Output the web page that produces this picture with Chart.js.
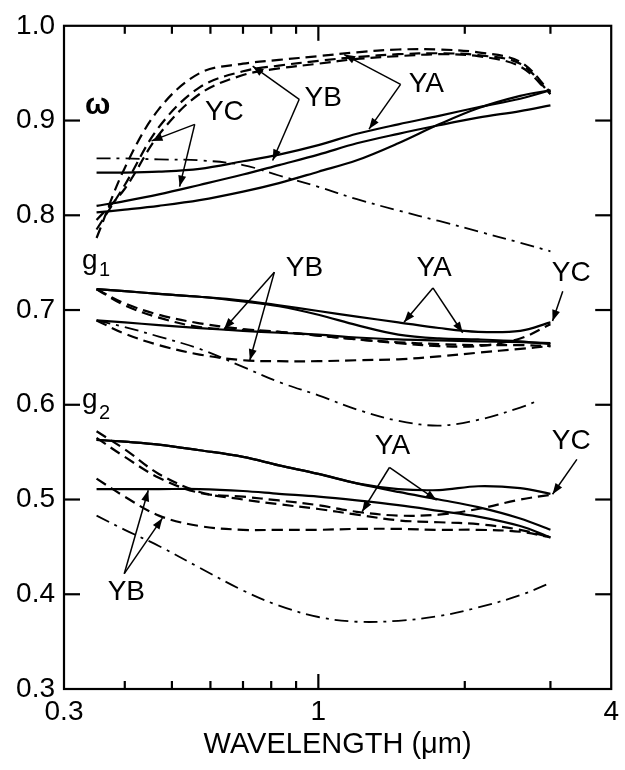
<!DOCTYPE html>
<html>
<head>
<meta charset="utf-8">
<script src="https://cdn.jsdelivr.net/npm/chart.js@4"></script>
<style>
  html, body { margin: 0; padding: 0; background: #fff; }
  canvas { display: block; }
</style>
</head>
<body>
<canvas id="chart" width="625" height="770"></canvas>
<script>
// wavelength grid (um) used by the curves
const wavelength = [0.35, 0.4, 0.47, 0.57, 0.7, 0.83, 1.0, 1.2, 1.46, 1.77, 2.13, 2.6, 3.0];
const wavelengthG1DashDot = [0.35, 0.4, 0.47, 0.57, 0.7, 0.83, 1.0, 1.2, 1.46, 1.77, 2.13, 2.6, 2.85];

// single scattering albedo (omega)
const omegaSolidA = [0.845, 0.845, 0.846, 0.849, 0.857, 0.864, 0.874, 0.886, 0.896, 0.905, 0.914, 0.923, 0.932];
const omegaSolidB = [0.810, 0.815, 0.822, 0.832, 0.843, 0.853, 0.864, 0.876, 0.886, 0.895, 0.903, 0.910, 0.916];
const omegaSolidC = [0.803, 0.806, 0.810, 0.816, 0.825, 0.834, 0.846, 0.858, 0.876, 0.896, 0.913, 0.926, 0.932];
const omegaDashA = [0.776, 0.850, 0.912, 0.950, 0.960, 0.964, 0.968, 0.972, 0.975, 0.975, 0.972, 0.962, 0.930];
const omegaDashB = [0.785, 0.832, 0.893, 0.935, 0.952, 0.958, 0.963, 0.967, 0.970, 0.971, 0.969, 0.960, 0.928];
const omegaDashC = [0.795, 0.828, 0.885, 0.928, 0.948, 0.955, 0.960, 0.965, 0.968, 0.970, 0.968, 0.957, 0.928];
const omegaDashDot = [0.860, 0.860, 0.859, 0.858, 0.853, 0.842, 0.830, 0.817, 0.805, 0.794, 0.783, 0.771, 0.762];

// asymmetry g1
const g1SolidA = [0.722, 0.720, 0.717, 0.714, 0.710, 0.705, 0.699, 0.693, 0.687, 0.681, 0.677, 0.678, 0.687];
const g1SolidB = [0.722, 0.720, 0.717, 0.714, 0.709, 0.704, 0.695, 0.684, 0.674, 0.670, 0.669, 0.667, 0.664];
const g1SolidC = [0.689, 0.687, 0.684, 0.681, 0.678, 0.676, 0.674, 0.671, 0.669, 0.668, 0.667, 0.666, 0.665];
const g1DashA = [0.722, 0.705, 0.692, 0.682, 0.679, 0.677, 0.673, 0.669, 0.666, 0.664, 0.663, 0.663, 0.662];
const g1DashB = [0.689, 0.675, 0.663, 0.653, 0.647, 0.646, 0.646, 0.647, 0.648, 0.651, 0.655, 0.659, 0.662];
const g1DashC = [0.722, 0.707, 0.695, 0.686, 0.680, 0.677, 0.673, 0.669, 0.665, 0.662, 0.662, 0.670, 0.685];
const g1DashDot = [0.689, 0.682, 0.672, 0.659, 0.640, 0.624, 0.610, 0.595, 0.583, 0.578, 0.584, 0.597, 0.605];

// asymmetry g2
const g2SolidA = [0.563, 0.561, 0.558, 0.552, 0.545, 0.536, 0.527, 0.517, 0.508, 0.500, 0.492, 0.480, 0.468];
const g2SolidB = [0.563, 0.561, 0.558, 0.552, 0.545, 0.536, 0.527, 0.517, 0.511, 0.510, 0.514, 0.512, 0.506];
const g2SolidC = [0.511, 0.511, 0.511, 0.511, 0.509, 0.506, 0.503, 0.499, 0.494, 0.488, 0.482, 0.472, 0.460];
const g2DashA = [0.572, 0.553, 0.527, 0.508, 0.500, 0.495, 0.490, 0.484, 0.478, 0.476, 0.474, 0.468, 0.460];
const g2DashB = [0.565, 0.545, 0.523, 0.507, 0.503, 0.499, 0.494, 0.487, 0.483, 0.484, 0.490, 0.500, 0.505];
const g2DashC = [0.522, 0.503, 0.483, 0.472, 0.468, 0.468, 0.468, 0.469, 0.469, 0.468, 0.468, 0.466, 0.460];
const g2DashDot = [0.483, 0.468, 0.451, 0.428, 0.404, 0.388, 0.376, 0.371, 0.372, 0.377, 0.386, 0.399, 0.412];

// axis ticks
const xTickValues = [0.3, 1, 4];
const xTickLabels = ['0.3', '1', '4'];
const xMinorTicks = [0.4, 0.5, 0.6, 0.7, 0.8, 0.9, 2, 3];
const yTickValues = [0.3, 0.4, 0.5, 0.6, 0.7, 0.8, 0.9, 1.0];

// curve labels and arrows (data coordinates)
const curveLabels = [
    { text: 'YC', x: 0.641, y: 0.909 },
    { text: 'YB', x: 1.023, y: 0.923 },
    { text: 'YA', x: 1.667, y: 0.938 },
    { text: 'YB', x: 0.936, y: 0.744 },
    { text: 'YA', x: 1.73, y: 0.744 },
    { text: 'YC', x: 3.31, y: 0.739 },
    { text: 'YA', x: 1.42, y: 0.556 },
    { text: 'YC', x: 3.31, y: 0.561 },
    { text: 'YB', x: 0.403, y: 0.402 }
];
const arrows = [
    [[0.557, 0.896], [0.454, 0.8785]],
    [[0.557, 0.896], [0.5186, 0.8303]],
    [[0.9135, 0.9224], [0.7328, 0.9574]],
    [[0.9135, 0.9224], [0.8055, 0.8578]],
    [[1.476, 0.9382], [1.130, 0.9696]],
    [[1.476, 0.9382], [1.271, 0.891]],
    [[0.812, 0.740], [0.64, 0.680]],
    [[0.812, 0.740], [0.723, 0.647]],
    [[1.72, 0.7233], [1.5, 0.687]],
    [[1.72, 0.7233], [1.98, 0.676]],
    [[3.18, 0.7199], [3.03, 0.6884]],
    [[1.40, 0.5338], [1.23, 0.4872]],
    [[1.40, 0.5338], [1.75, 0.4993]],
    [[3.4, 0.5424], [3.03, 0.5055]],
    [[0.399, 0.4217], [0.447, 0.5097]],
    [[0.399, 0.4217], [0.478, 0.4803]]
];

const FONT = '"Liberation Sans", Arial, Helvetica, sans-serif';
const DASH = [11, 6];
const DASH_DOT = [14, 6, 3, 6];

function toPoints(xs, ys) {
    return xs.map((x, i) => ({ x: x, y: ys[i] }));
}

function curve(ys, dash, xs) {
    return {
        data: toPoints(xs || wavelength, ys),
        borderColor: '#000',
        borderWidth: dash === DASH_DOT ? 1.8 : 2.2,
        borderDash: dash,
        pointRadius: 0,
        tension: 0.35,
        fill: false
    };
}

const datasets = [
    curve(omegaSolidA, []), curve(omegaSolidB, []), curve(omegaSolidC, []),
    curve(omegaDashA, DASH), curve(omegaDashB, DASH), curve(omegaDashC, DASH),
    curve(omegaDashDot, DASH_DOT),
    curve(g1SolidA, []), curve(g1SolidB, []), curve(g1SolidC, []),
    curve(g1DashA, DASH), curve(g1DashB, DASH), curve(g1DashC, DASH),
    curve(g1DashDot, DASH_DOT, wavelengthG1DashDot),
    curve(g2SolidA, []), curve(g2SolidB, []), curve(g2SolidC, []),
    curve(g2DashA, DASH), curve(g2DashB, DASH), curve(g2DashC, DASH),
    curve(g2DashDot, DASH_DOT)
];

// frame with inward ticks, labels and arrows
const framePlugin = {
    id: 'frame',
    afterDraw(chart) {
        const ctx = chart.ctx;
        const a = chart.chartArea;
        const xs = chart.scales.x;
        const ys = chart.scales.y;
        ctx.save();
        ctx.strokeStyle = '#000';
        ctx.fillStyle = '#000';
        ctx.lineWidth = 2.2;
        ctx.setLineDash([]);
        ctx.strokeRect(a.left, a.top, a.right - a.left, a.bottom - a.top);

        function seg(x1, y1, x2, y2) {
            ctx.beginPath();
            ctx.moveTo(x1, y1);
            ctx.lineTo(x2, y2);
            ctx.stroke();
        }
        xMinorTicks.concat([1]).forEach(v => {
            const px = xs.getPixelForValue(v);
            const len = v === 1 ? 15 : 8;
            seg(px, a.bottom, px, a.bottom - len);
            seg(px, a.top, px, a.top + len);
        });
        yTickValues.slice(1, -1).forEach(v => {
            const py = ys.getPixelForValue(v);
            seg(a.left, py, a.left + 16, py);
            seg(a.right, py, a.right - 16, py);
        });

        // arrows
        ctx.lineWidth = 1.5;
        arrows.forEach(ar => {
            const x1 = xs.getPixelForValue(ar[0][0]), y1 = ys.getPixelForValue(ar[0][1]);
            const x2 = xs.getPixelForValue(ar[1][0]), y2 = ys.getPixelForValue(ar[1][1]);
            seg(x1, y1, x2, y2);
            const ang = Math.atan2(y2 - y1, x2 - x1);
            const L = 11, W = 4;
            ctx.beginPath();
            ctx.moveTo(x2, y2);
            ctx.lineTo(x2 - L * Math.cos(ang) + W * Math.sin(ang), y2 - L * Math.sin(ang) - W * Math.cos(ang));
            ctx.lineTo(x2 - L * Math.cos(ang) - W * Math.sin(ang), y2 - L * Math.sin(ang) + W * Math.cos(ang));
            ctx.closePath();
            ctx.fill();
        });

        // curve labels
        ctx.font = '28px ' + FONT;
        ctx.textAlign = 'center';
        ctx.textBaseline = 'middle';
        curveLabels.forEach(l => {
            ctx.fillText(l.text, xs.getPixelForValue(l.x), ys.getPixelForValue(l.y));
        });

        // parameter names
        ctx.textBaseline = 'alphabetic';
        ctx.font = 'bold 30px ' + FONT;
        ctx.fillText('\u03c9', xs.getPixelForValue(0.352), ys.getPixelForValue(0.9067));
        ctx.textAlign = 'left';
        ctx.font = '28px ' + FONT;
        ctx.fillText('g', xs.getPixelForValue(0.3266), ys.getPixelForValue(0.7433));
        ctx.fillText('g', xs.getPixelForValue(0.3266), ys.getPixelForValue(0.5961));
        ctx.font = '20px ' + FONT;
        ctx.fillText('1', xs.getPixelForValue(0.3539), ys.getPixelForValue(0.7360));
        ctx.fillText('2', xs.getPixelForValue(0.3539), ys.getPixelForValue(0.5851));
        ctx.restore();
    }
};

const ctx = document.getElementById('chart').getContext('2d');
new Chart(ctx, {
    type: 'line',
    data: { datasets: datasets },
    options: {
        responsive: false,
        animation: false,
        devicePixelRatio: 1,
        layout: { padding: { top: 21, right: 12, left: 0, bottom: 0 } },
        plugins: {
            legend: { display: false },
            tooltip: { enabled: false }
        },
        scales: {
            x: {
                type: 'logarithmic',
                min: 0.3,
                max: 4,
                afterBuildTicks(scale) {
                    scale.ticks = xTickValues.map(v => ({ value: v }));
                },
                afterFit(scale) { scale.height = 81; },
                grid: { display: false, drawTicks: false },
                border: { display: false },
                ticks: {
                    autoSkip: false,
                    maxRotation: 0,
                    padding: 6,
                    color: '#000',
                    font: { family: FONT, size: 28 },
                    callback: function(value) {
                        const i = xTickValues.indexOf(value);
                        return i >= 0 ? xTickLabels[i] : '';
                    }
                },
                title: {
                    display: true,
                    text: 'WAVELENGTH (\u03bcm)',
                    color: '#000',
                    font: { family: FONT, size: 29 },
                    padding: { top: 0, bottom: 8 }
                }
            },
            y: {
                min: 0.3,
                max: 1.0,
                afterBuildTicks(scale) {
                    scale.ticks = yTickValues.map(v => ({ value: v }));
                },
                afterFit(scale) { scale.width = 64; },
                grid: { display: false, drawTicks: false },
                border: { display: false },
                ticks: {
                    padding: 9,
                    color: '#000',
                    font: { family: FONT, size: 28 },
                    callback: value => value.toFixed(1)
                }
            }
        }
    },
    plugins: [framePlugin]
});
</script>
</body>
</html>
